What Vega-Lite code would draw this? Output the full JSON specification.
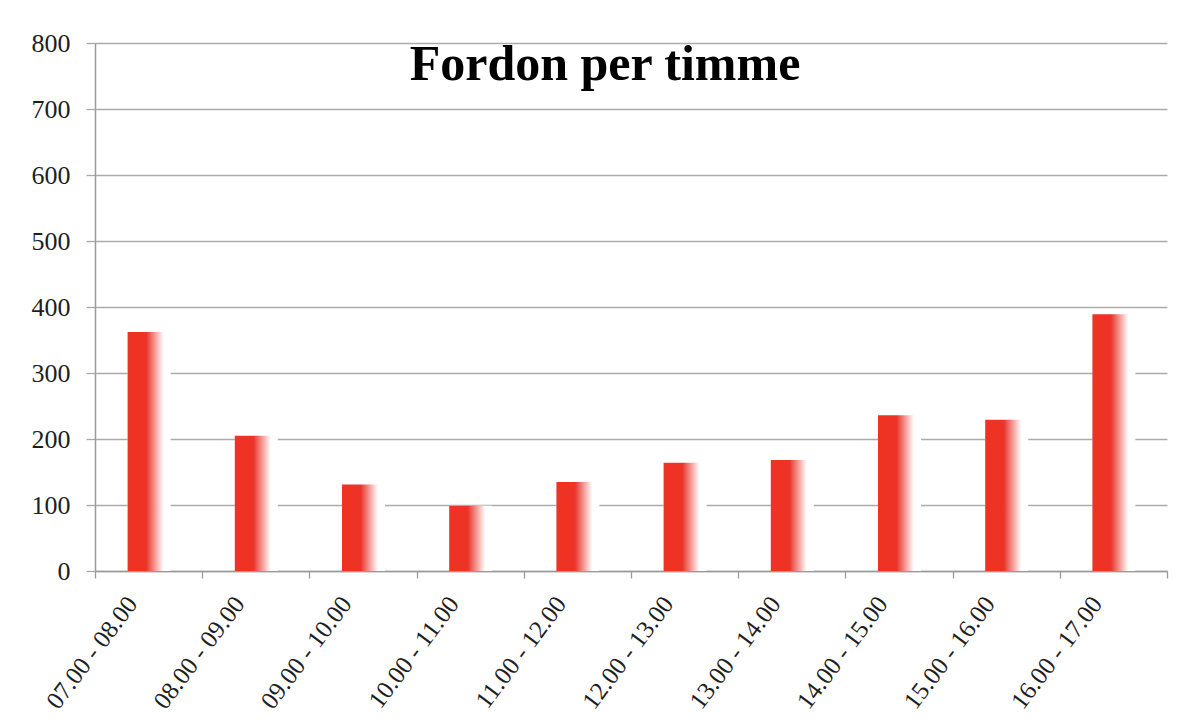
{
  "$schema": "https://vega.github.io/schema/vega-lite/v6.json",
  "autosize": {"type": "none"},
  "width": 1072,
  "height": 528,
  "padding": {"left": 95, "top": 43, "right": 27, "bottom": 157},
  "background": "#ffffff",
  "config": {"view": {"stroke": null}},
  "title": {
    "text": "Fordon per timme",
    "font": "Liberation Serif",
    "fontSize": 50,
    "fontWeight": "bold",
    "color": "#000000",
    "anchor": "middle",
    "frame": "group",
    "orient": "top",
    "baseline": "alphabetic",
    "offset": -39,
    "dx": -26,
    "dy": 61
  },
  "data": {
    "values": [
      {"tid": "07.00 - 08.00", "fordon": 362},
      {"tid": "08.00 - 09.00", "fordon": 205},
      {"tid": "09.00 - 10.00", "fordon": 131},
      {"tid": "10.00 - 11.00", "fordon": 99},
      {"tid": "11.00 - 12.00", "fordon": 135},
      {"tid": "12.00 - 13.00", "fordon": 164},
      {"tid": "13.00 - 14.00", "fordon": 168},
      {"tid": "14.00 - 15.00", "fordon": 236},
      {"tid": "15.00 - 16.00", "fordon": 229},
      {"tid": "16.00 - 17.00", "fordon": 389}
    ]
  },
  "encoding": {
    "x": {
      "field": "tid",
      "type": "nominal",
      "sort": null,
      "scale": {"paddingInner": 0, "paddingOuter": 0},
      "axis": {
        "title": null,
        "labelAngle": -53,
        "labelFont": "Liberation Serif",
        "labelFontSize": 25,
        "labelColor": "#1e1e1e",
        "tickBand": "extent",
        "tickSize": 7,
        "tickColor": "#9a9a9a",
        "tickWidth": 1.3,
        "domainColor": "#9a9a9a",
        "domainWidth": 1.5,
        "labelPadding": 21,
        "labelOffset": -17,
        "grid": false
      }
    },
    "y": {
      "field": "fordon",
      "type": "quantitative",
      "scale": {"domain": [0, 800], "nice": false},
      "axis": {
        "title": null,
        "values": [0, 100, 200, 300, 400, 500, 600, 700, 800],
        "labelFont": "Liberation Serif",
        "labelFontSize": 26,
        "labelColor": "#1e1e1e",
        "labelPadding": 16,
        "tickSize": 9,
        "tickColor": "#a8a8a8",
        "tickWidth": 1.3,
        "domainColor": "#9a9a9a",
        "domainWidth": 1.5,
        "grid": true,
        "gridColor": "#ababab",
        "gridWidth": 1.3
      }
    }
  },
  "layer": [
    {
      "mark": {"type": "bar", "width": 43, "color": "#ffffff", "xOffset": 0.5}
    },
    {
      "mark": {
        "type": "bar",
        "width": 36,
        "xOffset": -3,
        "color": {
          "gradient": "linear",
          "x1": 0, "y1": 0, "x2": 1, "y2": 0,
          "stops": [
            {"offset": 0, "color": "#ee3224"},
            {"offset": 0.42, "color": "#ee3224"},
            {"offset": 0.52, "color": "#e9352b"},
            {"offset": 1, "color": "#ffffff"}
          ]
        }
      }
    }
  ]
}
